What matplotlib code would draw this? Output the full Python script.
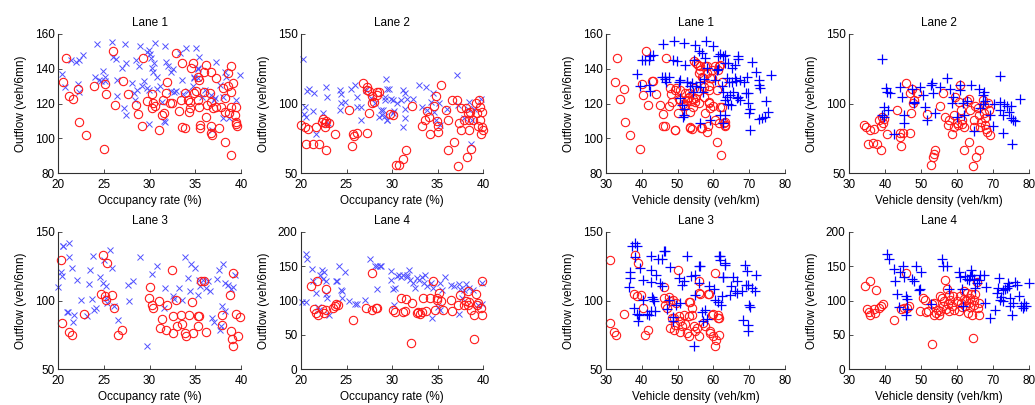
import numpy as np
import matplotlib
matplotlib.use("Agg")
import matplotlib.pyplot as plt

plt.rcParams["font.family"] = ["Liberation Sans", "DejaVu Sans"]
plt.rcParams["font.size"] = 8.5

# ---------------- Outflow vs occupancy rate (x marks / circles) ----------------
occ_lane1_circ = [(20.9,146.1),(20.6,132.6),(22.2,128.2),(21.2,124.4),(21.6,122.4),(22.3,109.5),(23.1,101.8),(25.0,94.1),(23.9,130.1),(25.1,131.3),
    (25.3,125.3),(26.0,150.4),(26.2,119.2),(27.1,133.0),(27.7,125.3),(28.5,119.0),(28.7,113.8),(29.3,146.3),(29.2,107.2),(29.7,121.5),
    (30.3,125.5),(30.4,120.1),(30.3,117.2),(30.6,118.6),(31.0,104.7),(31.6,114.3),(31.5,122.0),(31.4,113.4),(31.9,132.1),(31.8,125.9),
    (32.2,120.1),(32.5,120.1),(32.9,149.0),(33.6,143.2),(33.2,115.9),(33.4,122.0),(33.9,126.3),(33.6,106.6),(33.9,105.7),(34.2,122.0),
    (34.4,121.1),(34.4,117.2),(34.3,115.3),(34.5,140.3),(34.7,143.2),(35.1,127.2),(34.9,126.3),(35.3,135.5),(35.5,105.7),
    (36.2,142.3),(36.0,138.4),(36.7,138.4),(35.4,133.6),(37.3,134.6),(36.0,126.9),(35.3,122.0),(36.6,125.9),(36.7,121.1),(35.4,118.2),
    (36.2,112.4),(35.5,107.6),(36.7,107.0),(37.6,105.7),(36.7,103.2),(36.8,101.8),(36.3,119.2),(36.9,117.2),(37.3,118.2),(37.8,118.2),
    (38.0,128.8),(38.6,129.8),(38.9,126.9),(38.9,141.3),(38.6,137.5),(39.1,131.7),(38.2,123.0),(38.9,118.2),(39.4,118.2),(38.7,114.3),
    (39.3,113.4),(39.4,109.5),(39.4,108.2),(39.6,107.0),(38.2,98.0),(38.9,90.3),(38.2,115.3)]
occ_lane1_mark = [(20.4,137.1),(20.8,129.4),(21.4,144.8),(22.0,143.8),(22.3,144.8),(22.7,148.1),(22.2,131.1),(22.3,126.9),(24.3,154.2),(24.0,135.1),
    (24.5,133.6),(24.7,133.0),(24.9,138.8),(25.1,135.1),(25.1,133.0),(25.9,155.2),(26.0,146.7),(26.3,145.5),(26.4,124.4),(27.3,154.4),
    (27.0,140.7),(27.4,143.2),(26.4,133.6),(27.2,117.6),(27.4,113.4),(28.1,131.7),(28.3,126.3),(28.4,122.0),(29.0,153.3),(28.5,144.8),
    (28.8,141.3),(28.6,127.8),(29.2,130.1),(29.4,133.0),(29.7,149.4),(29.9,150.9),(30.1,148.4),(30.2,146.1),(30.3,140.3),(30.4,138.4),
    (30.5,143.2),(29.7,128.8),(29.9,127.8),(30.6,154.8),(30.8,135.5),(30.8,128.2),(31.1,130.1),(31.4,121.1),(31.6,110.1),(31.7,153.3),
    (31.8,143.6),(32.0,141.7),(32.4,138.4),(32.6,139.8),(32.3,127.2),(32.7,126.9),(32.9,127.2),(33.3,149.0),(33.5,133.6),(33.7,125.3),
    (34.2,127.2),(34.7,129.8),(34.9,134.6),(35.3,134.6),(35.3,139.8),(34.0,151.9),(35.1,151.9),(35.4,146.7),(34.9,135.5),(35.3,140.3),
    (37.3,143.6),(36.1,127.8),(35.7,124.0),(36.7,125.0),(37.2,123.4),(37.0,122.0),(38.2,138.4),(38.4,135.5),(37.7,130.7),(38.0,124.0),
    (39.4,122.0),(39.9,136.5),(38.0,111.4),(38.7,111.4),(36.8,104.7),(29.9,108.2),(31.7,109.5)]

occ_lane2_circ = [(20.0,84.5),(20.4,83.3),(20.8,81.3),(20.5,70.7),(21.3,71.2),(21.6,83.3),(22.0,70.7),(22.7,66.9),(22.3,86.9),(22.4,88.6),
    (22.6,85.7),(22.8,87.6),(23.1,86.1),(22.6,82.8),(23.7,78.4),(25.3,95.3),(25.7,78.4),(25.8,76.5),(25.6,69.3),(26.1,79.0),
    (26.8,114.6),(27.2,111.7),(27.3,109.8),(27.5,92.9),(27.2,79.0),(27.8,105.4),(28.3,108.6),(28.4,106.1),(27.8,100.6),(29.8,92.4),
    (30.4,55.5),(27.5,109.3),(28.6,108.6),(28.0,101.3),(30.1,91.7),(31.5,66.4),(31.2,60.4),(30.8,55.5),(32.2,98.2),(33.3,83.7),
    (33.6,88.1),(34.1,90.5),(34.2,78.0),(34.8,105.4),(34.9,87.1),(35.0,83.7),(35.4,113.1),(35.0,79.6),(35.9,95.3),(36.2,88.1),
    (36.1,66.4),(36.6,102.5),(37.1,102.5),(36.8,72.4),(37.6,96.5),(37.3,54.8),(37.6,80.8),(37.9,88.1),(38.1,96.5),(38.3,92.9),
    (38.5,88.1),(38.6,94.1),(38.9,88.1),(38.5,80.8),(38.2,61.6),(38.7,67.6),(39.2,100.1),(39.6,102.5),(39.7,97.7),(39.9,94.1),
    (39.7,88.1),(39.9,83.3),(40.0,80.8),(39.8,78.4),(39.5,83.7),(39.3,92.9),(34.6,98.2),(33.9,94.9),(37.4,85.7)]
occ_lane2_mark = [(20.2,131.9),(20.3,92.4),(20.4,97.2),(20.6,90.5),(20.7,109.3),(20.9,110.2),(21.4,107.3),(21.3,94.8),(21.7,78.4),(22.4,92.9),
    (22.8,111.7),(22.9,104.9),(23.0,85.7),(24.3,109.8),(24.4,106.9),(24.4,100.1),(24.3,95.3),(24.8,101.3),(25.5,110.2),(25.9,113.4),
    (26.1,104.9),(26.1,97.2),(26.6,97.2),(26.6,88.1),(27.1,109.8),(27.7,103.7),(28.1,100.1),(28.8,95.3),(28.9,91.7),(28.6,90.0),
    (29.3,117.5),(29.4,88.1),(29.5,110.2),(29.2,104.9),(29.9,103.0),(30.1,93.4),(30.6,100.1),(29.7,110.2),(30.1,102.5),(29.2,102.5),
    (29.0,95.3),(29.2,90.9),(29.5,88.1),(30.2,94.9),(31.0,102.5),(31.2,109.8),(31.4,107.8),(31.6,103.0),(31.4,96.3),(31.4,89.3),
    (31.2,83.3),(32.3,103.0),(33.0,113.4),(33.7,111.7),(33.3,97.2),(33.9,95.3),(34.5,107.8),(34.3,101.3),(34.6,94.1),(34.8,88.1),
    (35.2,100.1),(35.3,84.5),(36.0,95.8),(37.1,120.6),(37.2,99.2),(37.9,89.8),(38.3,95.8),(38.5,101.3),(38.8,88.1),(39.0,95.8),
    (39.8,103.0),(38.7,71.2)]

occ_lane3_circ = [(20.3,129.3),(20.4,83.6),(21.2,76.8),(21.5,75.1),(22.8,90.1),(24.9,133.5),(25.4,127.4),(24.7,105.0),(25.1,103.5),(25.3,100.6),
    (25.9,104.3),(26.1,94.5),(26.6,75.1),(27.0,78.7),(30.0,109.9),(29.9,101.8),(30.3,97.0),(30.4,94.5),(31.0,99.4),(31.4,86.5),
    (31.2,79.9),(31.8,78.7),(31.9,97.0),(32.5,122.5),(32.6,88.4),(32.6,76.3),(32.9,100.6),(33.0,81.1),(33.4,89.7),(33.5,83.1),
    (33.9,76.3),(34.0,73.8),(34.3,89.7),(34.6,98.7),(34.8,76.3),(35.4,88.4),(35.3,81.6),(35.6,114.0),(36.0,114.0),(35.3,88.9),
    (36.2,76.8),(38.8,104.3),(39.1,120.1),(37.9,89.7),(37.9,82.4),(39.5,90.4),(39.9,88.0),(38.9,77.5),(39.7,73.8),(39.1,66.5),
    (39.0,71.9)]
occ_lane3_mark = [(20.0,109.9),(20.5,140.0),(20.5,139.5),(20.3,120.6),(20.4,118.1),(21.0,91.4),(21.1,91.8),(21.2,142.0),(21.2,131.8),(21.5,123.7),
    (21.6,84.1),(21.7,89.7),(22.1,115.2),(22.5,100.6),(23.2,88.9),(23.4,112.3),(23.5,122.5),(23.8,132.2),(23.7,101.1),(23.9,92.8),
    (24.2,94.5),(24.6,116.9),(24.9,112.8),(25.0,129.3),(25.3,110.3),(25.3,101.8),(25.4,98.2),(25.7,136.6),(25.9,123.7),(26.1,95.7),
    (26.6,85.5),(27.7,111.6),(27.8,99.9),(28.2,114.0),(29.0,131.8),(29.7,67.0),(30.3,119.6),(30.8,125.4),(31.6,94.5),(31.7,109.1),
    (32.6,103.5),(32.7,101.1),(33.2,109.1),(33.6,100.6),(33.9,131.8),(34.2,116.4),(34.5,126.9),(34.4,106.7),(35.0,123.7),(35.4,115.2),
    (35.5,110.3),(35.3,104.3),(35.8,115.2),(36.4,114.0),(36.2,109.1),(36.6,106.7),(37.4,115.7),(37.6,122.5),(38.0,126.9),(38.2,112.8),
    (38.6,111.6),(38.9,108.4),(39.1,110.0),(39.3,118.8),(37.9,95.7),(38.3,92.1),(36.8,87.2),(37.8,81.1),(37.7,78.2),(37.0,84.1)]

occ_lane4_circ = [(21.1,121.7),(21.8,128.0),(21.4,87.6),(21.7,81.8),(21.9,79.3),(22.3,87.6),(22.5,81.8),(22.7,86.6),(22.8,116.8),(23.5,89.1),
    (23.7,92.5),(23.9,95.4),(24.1,93.9),(25.7,72.0),(27.1,89.1),(27.8,86.6),(28.2,89.1),(27.8,140.1),(30.1,85.6),(28.3,89.1),
    (30.3,83.2),(31.0,103.6),(31.5,102.7),(31.2,83.2),(31.4,85.2),(32.2,96.4),(32.1,38.0),(32.7,81.8),(32.9,83.2),(33.1,80.3),
    (33.3,83.2),(33.4,104.1),(33.7,85.2),(34.2,104.1),(34.5,128.4),(34.7,86.6),(34.9,104.1),(35.2,110.4),(35.4,98.8),(35.6,86.6),
    (34.9,101.2),(36.5,101.2),(36.6,85.2),(37.2,93.9),(37.5,108.5),(37.9,93.9),(38.1,99.8),(38.3,113.4),(38.3,93.9),(38.5,97.8),
    (38.7,86.6),(39.0,79.3),(39.2,109.5),(39.3,93.9),(39.5,96.4),(39.8,89.1),(39.9,79.3),(39.9,128.0),(39.0,44.3)]
occ_lane4_mark = [(20.1,97.3),(20.5,97.3),(20.5,168.4),(20.7,160.6),(21.2,146.0),(21.3,128.0),(21.6,110.9),(21.9,90.5),(22.0,86.6),(22.1,137.7),
    (22.3,144.0),(22.5,141.1),(22.4,131.4),(22.7,110.0),(22.8,128.0),(22.9,103.6),(23.1,79.3),(23.8,128.0),(24.0,128.0),(24.2,149.9),
    (24.4,115.8),(24.5,113.4),(24.5,103.6),(24.8,141.1),(25.3,99.8),(25.9,95.4),(26.1,95.4),(27.0,100.2),(27.6,160.6),(28.1,149.9),
    (28.7,149.9),(28.4,116.8),(29.9,142.6),(29.9,130.4),(30.1,116.8),(30.2,93.9),(30.6,135.3),(28.3,150.1),(28.8,150.1),(30.3,118.2),
    (30.8,136.7),(31.0,133.8),(31.2,136.7),(31.6,133.8),(31.9,145.0),(32.0,130.4),(31.7,137.7),(32.3,125.5),(32.5,118.2),(32.8,132.9),
    (33.0,130.4),(33.3,133.8),(33.6,137.7),(33.5,125.5),(33.9,120.7),(34.3,125.5),(34.5,118.2),(35.3,125.5),(35.8,133.8),(35.5,115.8),
    (34.4,74.5),(35.3,86.6),(35.0,90.0),(36.5,123.1),(36.8,120.7),(37.4,124.1),(37.5,117.3),(38.1,124.1),(37.9,115.8),(37.4,80.3),
    (37.7,103.6),(38.5,118.2),(38.9,115.8),(39.5,93.9),(39.9,125.5),(39.9,94.9)]

# ---------------- Outflow vs vehicle density (plus marks / circles) ----------------
den_lane1_circ = [(33.1,146.1),(32.4,132.1),(34.0,122.4),(35.1,128.2),(35.3,109.5),(36.8,101.8),(39.6,94.1),(40.0,131.3),(40.3,124.9),(41.3,150.0),
    (41.6,119.2),(43.0,133.2),(44.0,125.3),(45.2,119.2),(46.0,113.8),(46.8,146.1),(46.6,107.0),(47.5,118.6),(48.1,125.3),(48.4,121.1),
    (49.3,104.7),(49.6,129.2),(50.0,114.3),(50.7,122.0),(50.6,127.8),(51.4,119.7),(52.1,125.9),(52.6,122.0),(52.9,123.4),(53.3,124.0),
    (53.5,115.3),(53.7,121.7),(53.5,105.7),(54.0,105.1),(54.3,122.4),(54.9,121.1),(55.2,143.2),(55.9,137.5),(56.3,141.3),(56.8,105.7),
    (57.7,114.3),(57.3,129.4),(57.1,134.6),(58.2,141.3),(58.4,107.0),(58.2,103.7),(58.7,121.1),(59.1,117.2),(58.9,127.8),(59.6,134.6),
    (59.9,118.6),(60.5,110.5),(61.0,98.0),(61.7,141.3),(62.1,90.6),(61.9,118.2),(62.4,132.1),(63.0,108.6),(63.3,107.0),(63.3,109.5),
    (42.8,133.2),(47.8,128.8),(49.3,127.8),(50.3,122.4),(51.7,118.6),(53.1,126.3),(54.3,117.8),(54.9,123.0),(55.6,127.4),(54.6,128.8),
    (55.9,120.1),(57.3,123.6),(58.7,120.1),(54.5,144.2),(55.6,142.3),(56.3,139.4),(56.8,135.5),(57.7,141.3),(58.2,137.5),(59.1,134.6),
    (59.6,139.4),(60.5,141.3),(61.4,139.4),(61.9,142.3),(58.7,129.8),(61.0,127.8),(62.4,118.2),(61.7,108.6),(63.3,107.6),(45.9,107.0),
    (49.3,104.7),(53.5,106.2),(56.5,105.7)]
den_lane1_mark = [(38.7,137.1),(39.4,130.1),(40.0,144.8),(41.0,144.8),(41.9,144.8),(42.4,147.1),(43.1,148.1),(41.9,130.7),(42.2,127.4),(45.9,154.4),
    (45.6,135.1),(46.5,134.0),(47.5,135.1),(46.8,132.1),(49.1,155.8),(48.7,145.2),(49.8,144.2),(51.7,154.8),(50.6,133.6),(50.6,123.0),
    (52.1,142.3),(52.6,132.1),(53.5,130.1),(54.3,126.9),(51.7,116.6),(51.7,113.4),(54.9,153.8),(54.5,145.2),(55.9,150.0),(56.8,149.0),
    (56.3,132.6),(56.3,129.4),(57.1,126.9),(58.0,155.8),(57.7,146.1),(58.2,140.3),(59.9,153.3),(60.5,133.6),(61.0,139.4),(61.4,147.5),
    (62.4,130.1),(62.7,147.5),(63.3,143.2),(62.8,126.9),(63.8,124.0),(64.2,119.7),(65.4,126.9),(66.1,134.6),(66.7,123.0),(67.0,145.5),
    (56.3,108.6),(59.1,110.5),(61.9,113.4),(61.9,148.6),(63.3,148.1),(61.4,139.8),(64.2,143.2),(65.2,140.3),(66.1,142.3),(67.0,147.5),
    (70.7,143.6),(71.9,138.4),(76.1,136.5),(69.5,135.5),(68.6,132.6),(63.7,134.6),(64.4,132.6),(65.3,132.6),(66.4,133.2),(67.3,133.6),
    (72.6,133.6),(72.6,130.7),(73.1,128.8),(69.0,126.3),(69.8,126.3),(67.5,122.0),(66.9,124.0),(64.7,124.9),(63.3,122.0),(64.9,119.2),
    (69.8,120.5),(70.2,116.6),(70.0,114.7),(74.7,121.7),(75.3,115.3),(74.4,112.4),(73.5,111.4),(72.6,110.9),(70.3,104.7),(63.3,113.4),
    (62.8,108.6),(46.6,135.5),(50.3,132.6),(52.6,132.1),(54.0,131.7),(55.0,129.8),(57.3,134.0),(51.3,119.2),(51.6,112.4)]

den_lane2_circ = [(34.1,84.5),(34.8,82.8),(35.7,80.8),(36.9,82.0),(35.2,70.7),(36.7,71.7),(37.8,70.7),(38.9,66.9),(38.2,88.1),(38.9,83.7),
    (39.4,86.1),(39.6,88.6),(39.2,90.5),(40.6,78.4),(43.3,95.3),(44.1,78.9),(44.3,76.0),(45.0,79.0),(44.4,69.3),(46.9,79.0),
    (45.9,114.6),(46.9,107.3),(47.5,110.2),(47.2,92.9),(48.0,102.5),(47.8,100.6),(48.9,107.8),(51.7,92.4),(52.8,55.5),(53.3,61.6),
    (53.7,63.5),(54.0,66.4),(55.2,98.2),(56.1,107.8),(56.7,90.5),(57.4,84.5),(57.7,88.1),(58.6,78.4),(59.1,83.3),(59.3,91.7),
    (59.5,104.9),(60.0,86.1),(60.2,84.5),(60.7,113.4),(60.5,101.3),(61.0,95.3),(61.4,88.1),(61.9,83.3),(62.0,66.4),(61.4,85.3),
    (62.8,102.0),(63.2,103.0),(63.2,72.4),(63.7,95.3),(64.4,54.8),(64.6,88.1),(64.8,83.3),(65.4,61.6),(66.0,66.4),(65.7,96.5),
    (66.0,91.7),(66.5,83.3),(66.7,86.9),(67.2,102.5),(67.4,98.9),(67.6,93.4),(67.9,84.5),(68.3,79.6),(68.5,100.1),(68.8,95.3),
    (69.1,77.2),(67.9,89.3),(68.1,82.0),(65.1,98.2)]
den_lane2_mark = [(39.2,131.9),(39.2,91.7),(39.8,97.2),(39.6,90.0),(40.4,111.0),(40.6,108.6),(41.3,107.8),(40.7,95.3),(42.4,78.4),(44.3,111.7),
    (44.7,104.9),(45.2,91.7),(45.2,85.7),(47.5,110.2),(48.0,101.3),(48.1,100.1),(49.8,111.7),(50.6,106.1),(51.2,97.2),(51.7,88.1),
    (52.8,113.4),(53.1,114.6),(53.3,107.3),(54.0,92.9),(55.4,112.2),(57.2,118.2),(58.1,110.2),(58.6,100.1),(58.9,104.9),(60.0,90.5),
    (60.7,109.8),(60.9,113.4),(61.7,100.1),(62.0,91.7),(62.8,102.0),(63.9,113.4),(64.6,80.4),(66.0,110.2),(66.5,96.5),(67.2,106.1),
    (67.6,108.6),(67.2,99.6),(67.9,102.0),(69.3,91.7),(70.0,83.7),(70.2,99.6),(71.9,119.9),(72.0,101.3),(72.8,91.7),(72.8,78.9),
    (73.1,99.6),(73.9,98.2),(74.4,94.1),(75.0,89.3),(75.6,88.1),(76.2,87.6),(75.3,70.7),(77.4,103.0),(75.0,98.2),(72.0,95.3)]

den_lane3_circ = [(31.0,129.3),(31.0,83.6),(32.3,76.8),(32.8,75.1),(34.9,90.1),(38.2,133.5),(38.8,127.4),(37.9,105.0),(38.7,103.5),(39.8,104.3),
    (40.3,94.5),(41.0,75.1),(41.6,78.7),(46.3,109.9),(46.1,101.8),(46.6,97.0),(47.0,94.5),(47.8,99.4),(48.4,87.2),(48.0,79.9),
    (49.1,78.7),(49.6,98.2),(50.0,122.5),(50.3,88.4),(50.6,76.8),(51.2,81.1),(51.7,89.7),(52.1,83.1),(52.6,76.3),(53.1,74.3),
    (53.3,98.7),(54.0,89.7),(54.5,81.6),(55.9,74.3),(55.9,114.0),(56.3,105.0),(57.1,83.6),(57.7,81.6),(58.9,105.0),(59.1,77.5),
    (59.6,89.7),(59.9,73.8),(60.5,66.5),(60.5,120.1),(60.8,71.4),(61.4,89.7),(61.7,87.2),(61.7,75.1),(49.1,87.2),(50.6,84.8),
    (49.3,82.4),(53.3,88.4),(54.9,77.5),(55.4,79.9),(54.0,94.5),(47.5,102.6),(48.7,100.6),(56.1,105.5),(58.6,105.0),(59.8,90.1),
    (61.4,87.2),(59.1,76.3),(53.4,98.9)]
den_lane3_mark = [(37.3,140.0),(38.2,142.0),(38.7,139.5),(36.6,120.6),(36.8,116.4),(36.3,109.9),(38.2,131.8),(39.6,123.7),(40.3,115.2),(37.7,94.5),
    (38.7,90.4),(38.8,84.8),(39.1,89.7),(40.4,100.6),(41.4,90.4),(42.5,113.3),(42.5,122.5),(42.7,132.2),(43.2,101.1),(43.6,92.1),
    (43.9,118.9),(44.5,130.3),(46.2,135.9),(47.0,93.8),(47.5,100.6),(48.7,88.0),(50.3,116.4),(51.2,111.6),(51.7,114.0),(52.6,132.2),
    (53.7,117.6),(54.5,66.5),(55.9,125.4),(55.9,112.8),(56.7,91.4),(57.1,84.8),(58.2,86.5),(58.7,110.3),(60.2,108.4),(60.5,100.6),
    (61.2,98.7),(61.7,132.7),(61.9,129.8),(62.7,117.2),(63.3,127.4),(46.6,136.4),(45.7,130.5),(48.0,124.2),(54.9,118.9),(56.3,124.9),
    (54.9,104.3),(57.6,93.3),(62.0,97.0),(62.4,103.0),(61.9,132.2),(63.3,126.2),(62.6,116.9),(64.9,110.3),(65.4,116.9),(66.5,114.0),
    (66.7,105.5),(66.0,106.7),(67.9,107.2),(64.7,104.3),(68.9,125.7),(69.3,121.3),(69.2,111.6),(69.8,111.6),(70.8,109.1),(71.7,106.7),
    (72.0,118.4),(70.0,97.0),(70.2,95.0),(68.3,86.0),(69.6,82.4),(69.8,77.5),(42.9,102.3),(42.6,92.1),(42.0,89.7),(43.5,99.4),
    (45.2,112.8),(45.6,110.3),(49.6,97.0),(50.8,98.2),(48.7,84.8)]

den_lane4_circ = [(34.5,121.7),(35.7,128.0),(35.0,87.6),(35.5,82.8),(35.9,79.3),(36.9,87.6),(37.3,81.8),(37.6,115.8),(38.2,89.1),(38.9,92.5),
    (39.4,95.4),(42.4,72.0),(44.4,87.6),(45.2,89.1),(45.9,140.1),(46.1,89.1),(46.6,91.5),(49.6,84.2),(50.6,103.6),(51.2,101.2),
    (51.5,82.8),(51.9,84.2),(53.1,37.0),(53.1,95.4),(53.5,79.3),(54.3,81.8),(54.6,85.6),(54.9,79.3),(55.2,105.9),(55.8,103.6),
    (56.1,92.5),(56.5,98.8),(56.8,130.4),(57.0,87.6),(57.4,95.4),(57.7,108.5),(58.1,101.2),(58.6,92.5),(58.9,105.9),(59.3,85.6),
    (60.0,98.8),(60.5,84.2),(60.7,105.9),(61.1,96.4),(61.4,90.5),(61.9,113.4),(62.0,102.2),(62.3,91.5),(62.6,101.2),(62.8,110.9),
    (63.0,81.8),(63.2,96.4),(63.5,103.6),(63.7,90.5),(63.9,110.0),(64.2,79.3),(64.4,45.3),(64.6,101.2),(64.8,93.9),(65.1,110.0),
    (65.6,126.5),(65.7,89.1),(66.0,79.3),(66.0,96.4),(57.2,116.8),(53.7,96.4),(55.4,84.2),(57.9,84.2)]
den_lane4_mark = [(40.6,168.4),(41.0,160.6),(42.4,146.0),(42.9,128.0),(43.3,110.0),(43.8,90.5),(44.3,141.1),(45.0,149.9),(45.4,134.3),(45.7,106.1),
    (46.1,102.2),(45.9,79.3),(46.1,87.6),(47.5,131.4),(48.1,128.0),(48.7,149.9),(49.4,115.8),(49.8,116.8),(50.0,141.1),(52.8,95.4),
    (55.8,160.6),(56.1,149.9),(57.2,149.9),(57.7,116.8),(60.5,141.1),(60.7,134.3),(61.4,116.8),(61.7,91.5),(62.3,135.3),(62.8,131.4),
    (63.2,130.4),(63.5,135.3),(63.9,145.0),(64.2,137.7),(64.6,131.4),(65.1,118.2),(65.6,125.5),(66.0,130.4),(66.5,137.7),(67.6,137.7),
    (68.1,119.2),(67.9,96.4),(69.3,74.5),(71.1,110.9),(71.3,118.2),(71.6,132.9),(70.6,86.6),(71.9,101.2),(72.2,105.1),(72.8,98.8),
    (73.4,116.8),(73.9,118.2),(74.4,120.7),(74.1,125.5),(74.6,103.6),(74.8,92.5),(75.3,79.3),(75.6,95.9),(76.2,126.5),(76.7,122.6),
    (77.1,106.1),(77.8,92.5),(78.3,89.1),(78.5,96.4),(79.3,92.5),(79.9,125.5),(78.7,91.5),(72.8,114.8)]

lane_titles = ["Lane 1", "Lane 2", "Lane 3", "Lane 4"]
flow_ylims = [(80, 160), (50, 150), (50, 150), (0, 200)]
flow_yticks = [[80, 100, 120, 140, 160], [50, 100, 150], [50, 100, 150], [0, 50, 100, 150, 200]]
occ_xticks = [20, 25, 30, 35, 40]
den_xticks = [30, 40, 50, 60, 70, 80]

RED = "#ff1a1a"
BLUE_X = "#5050ff"
BLUE_P = "#0000ff"

fig = plt.figure(figsize=(10.35, 4.05), dpi=100)
W, H = 1035.0, 405.0


def make_axes(left, right, top, bottom):
    return fig.add_axes([left / W, 1 - bottom / H, (right - left) / W, (bottom - top) / H])


def style(ax, xlim, ylim, xticks, yticks, title, xlabel):
    ax.set_xlim(*xlim)
    ax.set_ylim(*ylim)
    ax.set_xticks(xticks)
    ax.set_yticks(yticks)
    for s in ("top", "right"):
        ax.spines[s].set_visible(False)
    for s in ("left", "bottom"):
        ax.spines[s].set_color("#303030")
        ax.spines[s].set_linewidth(0.8)
    ax.tick_params(direction="in", length=3, width=0.6, color="#303030",
                   labelsize=8.5)
    ax.tick_params(axis="x", pad=4.5)
    ax.tick_params(axis="y", pad=2.5)
    ax.set_title(title, fontsize=8.5, pad=6)
    ax.set_xlabel(xlabel, fontsize=8.5, labelpad=2.5)
    ax.set_ylabel("Outflow (veh/6mn)", fontsize=8.5, labelpad=5.5)
    ax.patch.set_alpha(0)


col_x = [(58, 241), (301, 483), (606, 785), (849, 1029)]
row_y = [(34, 173), (232, 369)]

occ_data = [(occ_lane1_mark, occ_lane1_circ), (occ_lane2_mark, occ_lane2_circ),
            (occ_lane3_mark, occ_lane3_circ), (occ_lane4_mark, occ_lane4_circ)]
den_data = [(den_lane1_mark, den_lane1_circ), (den_lane2_mark, den_lane2_circ),
            (den_lane3_mark, den_lane3_circ), (den_lane4_mark, den_lane4_circ)]

for i in range(4):
    r, c = divmod(i, 2)
    top, bottom = row_y[r]

    # occupancy panels
    left, right = col_x[c]
    ax = make_axes(left, right, top, bottom)
    marks, circs = (np.array(d) for d in occ_data[i])
    ax.plot(marks[:, 0], marks[:, 1], ls="none", marker="x", ms=4.5, mew=0.7,
            color=BLUE_X, clip_on=False)
    ax.plot(circs[:, 0], circs[:, 1], ls="none", marker="o", ms=6, mew=0.8,
            mfc="none", mec=RED, clip_on=False)
    style(ax, (20, 40), flow_ylims[i], occ_xticks, flow_yticks[i], lane_titles[i],
          "Occupancy rate (%)")

    # density panels
    left, right = col_x[c + 2]
    ax = make_axes(left, right, top, bottom)
    marks, circs = (np.array(d) for d in den_data[i])
    ax.plot(circs[:, 0], circs[:, 1], ls="none", marker="o", ms=6, mew=0.8,
            mfc="none", mec=RED, clip_on=False)
    ax.plot(marks[:, 0], marks[:, 1], ls="none", marker="+", ms=7, mew=0.9,
            color=BLUE_P, clip_on=False)
    style(ax, (30, 80), flow_ylims[i], den_xticks, flow_yticks[i], lane_titles[i],
          "Vehicle density (veh/km)")

fig.savefig("out.png", dpi=100)
